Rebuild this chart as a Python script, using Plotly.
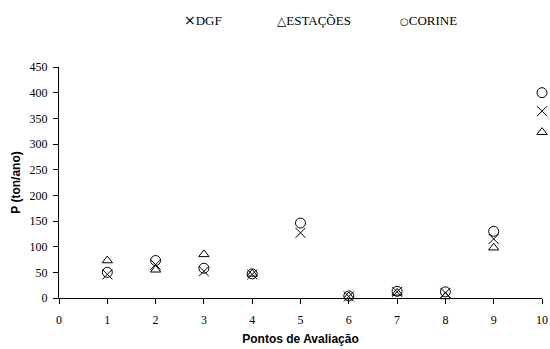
import plotly.graph_objects as go

pontos = [1, 2, 3, 4, 5, 6, 7, 8, 9, 10]
dgf = [46, 65, 52, 46, 127, 3, 12, 10, 115, 364]
estacoes = [73, 55, 85, 47, None, 3, 10, 3, 98, 323]
corine = [50, 73, 58, 47, 146, 4, 13, 12, 130, 400]

series_names = ["DGF", "ESTAÇÕES", "CORINE"]
legend_glyphs = ["×", "△", "○"]
glyph_sizes = [14, 12, 10]

x_ticks = list(range(0, 11))
y_ticks = list(range(0, 451, 50))

fig = go.Figure()
fig.add_trace(go.Scatter(x=pontos, y=dgf, mode="markers", name=series_names[0], cliponaxis=False,
                         marker=dict(symbol="x-thin-open", size=10, color="black",
                                     line=dict(color="black", width=1))))
fig.add_trace(go.Scatter(x=pontos, y=estacoes, mode="markers", name=series_names[1], cliponaxis=False,
                         marker=dict(symbol="triangle-up-open", size=9, color="black",
                                     line=dict(color="black", width=1))))
fig.add_trace(go.Scatter(x=pontos, y=corine, mode="markers", name=series_names[2], cliponaxis=False,
                         marker=dict(symbol="circle-open", size=10, color="black",
                                     line=dict(color="black", width=1))))

serif = "Liberation Serif, Times New Roman, serif"
sans = "Liberation Sans, Arial, sans-serif"

L, R, T, B = 59, 8, 67, 51
W, H = 550, 349
pw = W - L - R
ph = H - T - B

legend_px = [182, 275, 398]
for px, g, gs, n in zip(legend_px, legend_glyphs, glyph_sizes, series_names):
    txt = ("<span style='font-family:DejaVu Sans;font-size:%dpx'>%s</span>%s" % (gs, g, n))
    fig.add_annotation(x=(px - L) / pw, y=(T - 20) / ph + 1.0, xref="paper", yref="paper",
                       xanchor="left", yanchor="middle", showarrow=False,
                       text=txt, font=dict(family=serif, size=13, color="black"))

fig.update_layout(
    width=W, height=H,
    margin=dict(l=L, r=R, t=T, b=B, autoexpand=False),
    plot_bgcolor="white", paper_bgcolor="white",
    font=dict(family=serif, size=12, color="black"),
    showlegend=False,
    xaxis=dict(range=[0, 10], tickvals=x_ticks, ticks="outside", ticklen=5,
               tickcolor="black", showline=True, linecolor="black", linewidth=1,
               showgrid=False, zeroline=False, ticklabelstandoff=6, automargin=False,
               tickfont=dict(family=serif, size=12, color="black"),
               title=dict(text="<b>Pontos de Avaliação</b>",
                          font=dict(family=sans, size=12), standoff=8)),
    yaxis=dict(range=[0, 450], tickvals=y_ticks, ticks="outside", ticklen=5,
               tickcolor="black", showline=True, linecolor="black", linewidth=1,
               showgrid=False, zeroline=False, ticklabelstandoff=3, automargin=False,
               tickfont=dict(family=serif, size=12, color="black"),
               title=dict(text="<b>P (ton/ano)</b>",
                          font=dict(family=sans, size=12), standoff=6)),
)

fig.write_html("out.html", config={"displayModeBar": False},
               post_script="document.body.style.margin='0';document.body.style.overflow='hidden';")
